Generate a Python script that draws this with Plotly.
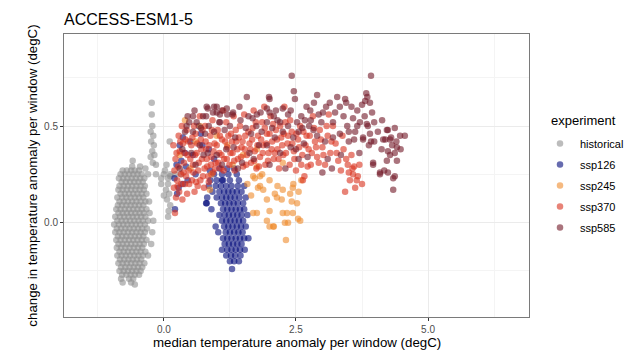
import plotly.graph_objects as go

# ---------------- data ----------------
experiments = ["historical", "ssp126", "ssp245", "ssp370", "ssp585"]
colors = {"historical": "#8f8f8f", "ssp126": "#00087a", "ssp245": "#ef8a2c",
          "ssp370": "#d9301c", "ssp585": "#721726"}

# historical: dense column, stored as rows  y -> list of x
historical_rows = {
    0.27: [-0.78, -0.70, -0.62, -0.55, -0.47],
    0.25: [-0.82, -0.74, -0.66, -0.58, -0.50, -0.42, -0.30, -0.15, 0.00, 0.12, 0.22, 0.33],
    0.23: [-0.85, -0.77, -0.69, -0.61, -0.53, -0.45, -0.37, -0.05, 0.08],
    0.21: [-0.80, -0.72, -0.64, -0.56, -0.48, -0.40],
    0.19: [-0.84, -0.76, -0.68, -0.60, -0.52, -0.44, -0.36],
    0.17: [-0.86, -0.78, -0.70, -0.62, -0.54, -0.46, -0.38],
    0.15: [-0.82, -0.74, -0.66, -0.58, -0.50, -0.42, -0.33],
    0.13: [-0.88, -0.79, -0.71, -0.63, -0.55, -0.47, -0.39],
    0.11: [-0.84, -0.76, -0.68, -0.60, -0.52, -0.44, -0.35, -0.28],
    0.09: [-0.87, -0.79, -0.71, -0.63, -0.55, -0.47, -0.39],
    0.07: [-0.90, -0.82, -0.74, -0.66, -0.58, -0.50, -0.42, -0.33],
    0.05: [-0.86, -0.78, -0.70, -0.62, -0.54, -0.46, -0.38, -0.27],
    0.03: [-0.92, -0.83, -0.75, -0.67, -0.59, -0.51, -0.43, -0.35],
    0.01: [-0.88, -0.80, -0.72, -0.64, -0.56, -0.48, -0.40, -0.30, -0.20],
    -0.01: [-0.94, -0.85, -0.77, -0.69, -0.61, -0.53, -0.45, -0.36],
    -0.03: [-0.89, -0.81, -0.73, -0.65, -0.57, -0.49, -0.41, -0.32],
    -0.05: [-0.92, -0.84, -0.76, -0.68, -0.60, -0.52, -0.44, -0.36, -0.22],
    -0.07: [-0.87, -0.79, -0.71, -0.63, -0.55, -0.47, -0.39],
    -0.09: [-0.90, -0.82, -0.74, -0.66, -0.58, -0.50, -0.42, -0.33],
    -0.11: [-0.86, -0.78, -0.70, -0.62, -0.54, -0.46, -0.38, -0.24],
    -0.13: [-0.89, -0.81, -0.73, -0.65, -0.57, -0.49, -0.41],
    -0.15: [-0.84, -0.76, -0.68, -0.60, -0.52, -0.44, -0.35],
    -0.17: [-0.88, -0.80, -0.72, -0.64, -0.56, -0.48, -0.40, -0.30],
    -0.19: [-0.83, -0.75, -0.67, -0.59, -0.51, -0.43],
    -0.21: [-0.86, -0.78, -0.70, -0.62, -0.54, -0.46, -0.37],
    -0.23: [-0.81, -0.73, -0.65, -0.57, -0.49, -0.41],
    -0.25: [-0.84, -0.76, -0.68, -0.60, -0.52, -0.44],
    -0.27: [-0.79, -0.71, -0.63, -0.55, -0.47],
    -0.29: [-0.81, -0.66, -0.58],
    -0.31: [-0.78, -0.62],
    -0.32: [-0.55],
}
historical_extra = [
    (-0.23, 0.62), (-0.23, 0.56), (-0.22, 0.50), (-0.25, 0.47), (-0.20, 0.45),
    (-0.24, 0.42), (-0.19, 0.40), (-0.22, 0.37), (-0.18, 0.35), (-0.25, 0.34),
    (-0.21, 0.31), (-0.15, 0.30), (0.11, 0.42), (-0.59, 0.32), (-0.45, 0.29),
    (-0.35, 0.28), (-0.60, 0.29), (0.05, 0.30), (0.02, 0.27), (0.12, 0.24),
    (0.08, 0.20), (0.04, 0.17), (0.10, 0.15), (0.06, 0.12), (0.12, 0.09),
    (0.09, 0.06), (0.08, 0.03), (-0.05, 0.20), (0.00, 0.14),
]

ssp126_rows = {
    0.28: [1.05, 1.20, 1.33],
    0.25: [0.95, 1.10, 1.22, 1.38],
    0.22: [0.88, 1.00, 1.12, 1.25, 1.42],
    0.19: [0.85, 0.98, 1.08, 1.18, 1.28, 1.40, 1.52],
    0.16: [0.92, 1.05, 1.14, 1.22, 1.30, 1.38, 1.47],
    0.13: [0.82, 1.00, 1.10, 1.18, 1.26, 1.34, 1.43, 1.55],
    0.10: [0.80, 1.08, 1.16, 1.24, 1.32, 1.40, 1.50],
    0.07: [0.90, 1.12, 1.20, 1.28, 1.36, 1.44, 1.52],
    0.04: [1.05, 1.15, 1.23, 1.31, 1.39, 1.47, 1.58],
    0.01: [1.10, 1.18, 1.26, 1.34, 1.42, 1.50],
    -0.02: [0.98, 1.14, 1.22, 1.30, 1.38, 1.46, 1.55],
    -0.05: [1.03, 1.17, 1.25, 1.33, 1.41, 1.49],
    -0.08: [1.12, 1.20, 1.28, 1.36, 1.44, 1.52, 1.60],
    -0.11: [1.15, 1.23, 1.31, 1.39, 1.47],
    -0.14: [1.10, 1.20, 1.28, 1.36, 1.44, 1.53],
    -0.17: [1.18, 1.27, 1.35, 1.45],
    -0.20: [1.25, 1.33, 1.42],
    -0.24: [1.29],
}
ssp126_extra = [
    (0.36, 0.44), (0.30, 0.40), (0.40, 0.36), (0.33, 0.32), (0.42, 0.29), (0.70, 0.46),
    (0.73, 0.40), (0.66, 0.50), (0.87, 0.27), (1.10, 0.22), (0.20, 0.23), (0.28, 0.18),
    (0.36, 0.20), (0.25, 0.15), (0.81, 0.10), (0.21, 0.07), (0.55, 0.35), (0.60, 0.25),
    (0.50, 0.42), (0.95, 0.33), (0.45, 0.22), (0.24, 0.30), (0.85, 0.38),
]

ssp245_points = [
    (1.69, 0.24), (1.78, 0.18), (1.86, 0.25), (2.00, 0.22), (2.10, 0.15), (1.95, 0.12),
    (2.23, 0.12), (2.39, 0.15), (2.52, 0.10), (2.44, 0.05), (2.25, 0.05), (2.00, 0.06),
    (1.95, 0.01), (2.29, 0.00), (2.58, 0.01), (2.00, -0.02), (2.08, -0.02), (2.35, 0.00),
    (2.31, -0.09), (1.76, 0.05), (2.45, 0.20), (2.55, 0.16), (2.15, 0.19), (1.65, 0.14),
    (2.07, -0.02), (2.42, 0.11), (2.54, 0.02), (2.33, 0.05), (1.69, 0.05),
    (0.40, 0.53), (0.68, 0.50), (1.76, 0.38), (0.87, 0.17), (1.82, 0.24), (1.82, 0.19),
    (1.72, 0.23), (1.88, 0.17), (2.25, 0.17), (2.44, 0.18), (2.14, 0.13), (2.25, 0.31),
    (1.76, 0.29), (0.30, 0.35), (0.50, 0.28), (1.00, 0.45), (1.30, 0.30), (0.60, 0.42),
    (1.50, 0.35), (0.90, 0.25), (1.20, 0.40), (2.60, 0.22), (1.58, 0.20),
]

ssp370_points = [
    (0.18, 0.40), (0.22, 0.33), (0.20, 0.27), (0.25, 0.22), (0.19, 0.18), (0.23, 0.13),
    (0.21, 0.05), (0.28, 0.45), (0.30, 0.37), (0.27, 0.29), (0.32, 0.25), (0.29, 0.16),
    (0.35, 0.12), (0.36, 0.41), (0.38, 0.31), (0.40, 0.20), (0.43, 0.48), (0.45, 0.35),
    (0.47, 0.27), (0.44, 0.15), (0.34, 0.50), (0.41, 0.43),
    (0.52, 0.40), (0.55, 0.30), (0.53, 0.22), (0.58, 0.16), (0.60, 0.46), (0.62, 0.36),
    (0.65, 0.27), (0.64, 0.19), (0.70, 0.43), (0.72, 0.33), (0.74, 0.24), (0.78, 0.50),
    (0.80, 0.38), (0.82, 0.29), (0.85, 0.21), (0.88, 0.45), (0.90, 0.34), (0.93, 0.26),
    (0.96, 0.41), (0.98, 0.31), (0.57, 0.50), (0.68, 0.55), (0.76, 0.18), (0.92, 0.53),
    (1.02, 0.48), (1.05, 0.36), (1.08, 0.28), (1.10, 0.43), (1.14, 0.33), (1.18, 0.52),
    (1.20, 0.39), (1.24, 0.30), (1.27, 0.46), (1.30, 0.36), (1.34, 0.27), (1.37, 0.42),
    (1.40, 0.33), (1.44, 0.50), (1.47, 0.39), (1.50, 0.29), (1.54, 0.45), (1.57, 0.35),
    (1.12, 0.58), (1.32, 0.55), (1.52, 0.56),
    (1.62, 0.41), (1.65, 0.31), (1.68, 0.49), (1.72, 0.37), (1.75, 0.28), (1.78, 0.45),
    (1.82, 0.34), (1.86, 0.52), (1.88, 0.40), (1.92, 0.30), (1.95, 0.46), (1.98, 0.36),
    (2.02, 0.55), (2.05, 0.42), (2.08, 0.33), (2.12, 0.48), (2.15, 0.38), (2.18, 0.28),
    (1.70, 0.58), (1.90, 0.60),
    (2.22, 0.44), (2.26, 0.35), (2.30, 0.52), (2.34, 0.41), (2.38, 0.30), (2.42, 0.47),
    (2.46, 0.37), (2.50, 0.27), (2.54, 0.43), (2.58, 0.50), (2.62, 0.35), (2.66, 0.24),
    (2.70, 0.45), (2.74, 0.38), (2.78, 0.30), (2.82, 0.55), (2.86, 0.42), (2.28, 0.60),
    (2.63, 0.22), (2.90, 0.34),
    (2.95, 0.48), (3.00, 0.39), (3.05, 0.30), (3.10, 0.45), (3.15, 0.36), (3.20, 0.50),
    (3.25, 0.41), (3.30, 0.32), (3.35, 0.27), (3.40, 0.38), (3.43, 0.16), (3.48, 0.30),
    (3.52, 0.22), (3.58, 0.25), (3.62, 0.18), (3.67, 0.24), (3.75, 0.20), (3.55, 0.35),
    (3.12, 0.56), (3.60, 0.29),
    (0.24, 0.36), (0.26, 0.19), (0.31, 0.42), (0.33, 0.20), (0.37, 0.26), (0.39, 0.36),
    (0.42, 0.24), (0.46, 0.42), (0.48, 0.20), (0.50, 0.33), (0.54, 0.44), (0.56, 0.26),
    (0.59, 0.35), (0.61, 0.21), (0.63, 0.41), (0.66, 0.31), (0.69, 0.22), (0.71, 0.38),
    (0.73, 0.48), (0.77, 0.28), (0.79, 0.42), (0.81, 0.33), (0.84, 0.24), (0.86, 0.40),
    (0.89, 0.30), (0.91, 0.48), (0.94, 0.37), (0.97, 0.28), (1.00, 0.40), (1.03, 0.31),
    (1.06, 0.45), (1.09, 0.35), (1.13, 0.27), (1.16, 0.42), (1.19, 0.33), (1.22, 0.45),
    (1.26, 0.36), (1.29, 0.42), (1.33, 0.32), (1.36, 0.48), (1.39, 0.38), (1.42, 0.44),
    (1.46, 0.34), (1.49, 0.42), (1.53, 0.38), (1.56, 0.30),
    (1.60, 0.47), (1.64, 0.38), (1.67, 0.43), (1.71, 0.32), (1.74, 0.52), (1.77, 0.40),
    (1.80, 0.29), (1.84, 0.43), (1.87, 0.36), (1.91, 0.49), (1.94, 0.41), (1.97, 0.32),
    (2.00, 0.46), (2.04, 0.38), (2.07, 0.51), (2.10, 0.36), (2.14, 0.43), (2.17, 0.33),
    (2.20, 0.50), (2.24, 0.40), (2.27, 0.46), (2.31, 0.36), (2.35, 0.45), (2.39, 0.53),
    (2.43, 0.41), (2.47, 0.33), (2.51, 0.46), (2.56, 0.39), (2.60, 0.30), (2.64, 0.47),
    (2.68, 0.40), (2.72, 0.29), (2.76, 0.45), (2.80, 0.36), (2.84, 0.49), (2.88, 0.39),
    (2.93, 0.31), (2.97, 0.43), (3.02, 0.35), (3.08, 0.50), (3.17, 0.42), (3.27, 0.36),
    (3.38, 0.45), (3.45, 0.33), (3.57, 0.28), (3.65, 0.22), (3.50, 0.26), (3.70, 0.30),
]

ssp585_points = [
    (0.83, 0.59), (1.00, 0.57), (1.10, 0.58), (1.19, 0.59), (1.31, 0.57), (1.57, 0.65),
    (1.99, 0.65), (1.95, 0.59), (2.00, 0.57), (2.25, 0.59), (2.42, 0.76), (2.46, 0.68),
    (2.48, 0.64), (1.76, 0.56), (1.06, 0.52), (0.74, 0.55), (2.00, 0.64), (0.43, 0.50),
    (3.92, 0.76), (2.90, 0.66), (2.84, 0.62), (3.28, 0.65), (3.43, 0.64), (3.45, 0.62),
    (3.83, 0.67), (3.85, 0.65), (3.81, 0.63), (3.90, 0.62), (3.75, 0.61), (3.94, 0.57),
    (3.66, 0.58), (4.13, 0.53), (4.22, 0.48), (4.37, 0.49), (4.47, 0.45), (4.28, 0.43),
    (4.40, 0.42), (3.86, 0.50), (3.71, 0.52), (3.58, 0.54), (3.33, 0.60), (3.14, 0.62),
    (3.01, 0.57), (2.77, 0.58), (2.67, 0.53), (2.98, 0.52), (3.20, 0.52), (2.83, 0.48),
    (3.33, 0.46), (3.50, 0.47), (3.77, 0.43), (3.92, 0.42),
    (4.24, 0.48), (4.56, 0.45), (4.30, 0.44), (4.19, 0.43), (4.41, 0.39), (4.24, 0.37),
    (4.37, 0.36), (4.22, 0.32), (4.41, 0.32), (3.96, 0.31), (4.09, 0.26), (4.24, 0.26),
    (4.34, 0.23), (4.34, 0.17), (4.15, 0.43), (4.28, 0.35), (4.09, 0.25), (4.17, 0.27),
    (4.37, 0.24),
    (3.47, 0.50), (3.66, 0.50), (3.84, 0.51), (3.90, 0.46), (3.77, 0.44), (3.98, 0.42),
    (3.60, 0.43), (3.96, 0.30), (3.88, 0.40),
    (0.40, 0.47), (0.48, 0.52), (0.55, 0.47), (0.62, 0.52), (0.70, 0.49), (0.78, 0.46),
    (0.85, 0.50), (0.95, 0.47), (1.05, 0.52), (1.15, 0.48), (1.25, 0.50), (1.35, 0.44),
    (1.45, 0.53), (1.55, 0.49), (1.65, 0.46), (1.75, 0.50), (1.85, 0.47), (1.95, 0.52),
    (2.05, 0.49), (2.15, 0.53), (2.25, 0.47), (2.35, 0.50), (2.45, 0.44), (2.55, 0.47),
    (2.65, 0.41), (2.75, 0.50), (0.35, 0.38), (0.52, 0.36), (0.68, 0.40), (0.83, 0.36),
    (1.00, 0.35), (1.18, 0.38), (1.32, 0.39), (1.48, 0.31), (1.62, 0.36), (1.80, 0.40),
    (1.95, 0.40), (2.10, 0.44), (2.20, 0.36), (2.40, 0.39), (2.55, 0.33), (2.72, 0.34),
    (2.90, 0.45), (3.05, 0.42), (3.20, 0.44), (0.30, 0.28), (0.60, 0.30), (0.75, 0.35),
    (1.10, 0.30), (1.40, 0.28), (1.70, 0.33), (2.00, 0.30), (2.30, 0.28), (2.50, 0.38),
    (0.45, 0.55), (0.80, 0.55), (1.60, 0.55), (2.12, 0.58), (2.35, 0.56), (2.60, 0.55),
    (2.70, 0.60), (1.43, 0.60), (0.58, 0.58), (0.95, 0.60), (3.10, 0.33), (3.35, 0.35),
    (3.50, 0.42), (3.70, 0.36), (3.00, 0.26), (3.18, 0.28),
    (0.81, 0.60), (0.93, 0.57), (1.00, 0.60), (0.55, 0.55), (1.06, 0.56), (1.20, 0.56),
    (1.30, 0.56),
    (1.68, 0.54), (1.83, 0.57), (2.08, 0.55), (2.20, 0.52), (2.40, 0.58), (2.52, 0.52),
    (2.62, 0.49), (2.78, 0.53), (2.93, 0.56), (3.07, 0.60), (3.24, 0.57), (3.40, 0.55),
    (3.55, 0.60), (3.62, 0.47), (3.80, 0.55), (3.98, 0.52), (4.05, 0.47), (4.12, 0.38),
    (4.32, 0.40), (4.48, 0.38),
]

x_tick_vals = [0.0, 2.5, 5.0]
y_tick_vals = [0.0, 0.5]
x_range = [-1.89, 6.91]
y_range = [-0.488, 0.976]


def rows_to_xy(rows, extra):
    xs, ys = [], []
    for yv, xlist in rows.items():
        for xv in xlist:
            xs.append(xv)
            ys.append(yv)
    for xv, yv in extra:
        xs.append(xv)
        ys.append(yv)
    return xs, ys


series = {
    "historical": rows_to_xy(historical_rows, historical_extra),
    "ssp126": rows_to_xy(ssp126_rows, ssp126_extra),
    "ssp245": rows_to_xy({}, ssp245_points),
    "ssp370": rows_to_xy({}, ssp370_points),
    "ssp585": rows_to_xy({}, ssp585_points),
}

FONT = "Liberation Sans, Arial, Helvetica, sans-serif"

# the page adds an 8px body margin, so figure coordinates are shifted by -8
L, T, R, B = 56, 26, 634 - 521, 350 - 309
PW, PH = 634 - L - R, 350 - T - B

fig = go.Figure()
for name in experiments:
    xs, ys = series[name]
    fig.add_trace(go.Scatter(
        x=xs, y=ys, mode="markers", name=name, legendgroup=name,
        marker=dict(color=colors[name], size=6.5, opacity=0.6, line=dict(width=0)),
    ))

axis_common = dict(
    showline=True, linecolor="#7a7a7a", linewidth=1, mirror=True,
    showgrid=True, gridcolor="#ebebeb", gridwidth=1,
    zeroline=False, ticks="outside", ticklen=3, tickcolor="#333333",
    tickfont=dict(family=FONT, size=10, color="#4d4d4d"),
    tickformat=".1f", automargin=False,
)

fig.update_layout(
    width=634, height=350,
    margin=dict(l=L, r=R, t=T, b=B, autoexpand=False),
    paper_bgcolor="white", plot_bgcolor="white",
    font=dict(family=FONT, color="black"),
    title=dict(text="ACCESS-ESM1-5", x=L / 634, xanchor="left", xref="container",
               y=1 - 11 / 350, yanchor="middle", yref="container",
               font=dict(family=FONT, size=16, color="black")),
    xaxis=dict(range=x_range, tickvals=x_tick_vals,
               minor=dict(showgrid=True, gridcolor="#f4f4f4", gridwidth=0.6, dtick=1.25, tick0=0),
               **axis_common),
    yaxis=dict(range=y_range, tickvals=y_tick_vals,
               minor=dict(showgrid=True, gridcolor="#f4f4f4", gridwidth=0.6, dtick=0.25, tick0=0),
               title=dict(text="change in temperature anomaly per window (degC)",
                          font=dict(family=FONT, size=13.3, color="black"), standoff=3),
               **axis_common),
    legend=dict(font=dict(family=FONT, size=11, color="black"),
                x=(532 - L) / PW, xanchor="left", y=0.664, yanchor="top",
                tracegroupgap=2,
                bgcolor="rgba(0,0,0,0)"),
    showlegend=True,
)

# x-axis title (placed as paper-referenced text so it sits inside the visible page)
fig.add_annotation(text="median temperature anomaly per window (degC)",
                   xref="paper", yref="paper", x=0.5, y=(309 - 334) / PH,
                   xanchor="center", yanchor="middle", showarrow=False,
                   font=dict(family=FONT, size=13.3, color="black"))

fig.add_annotation(text="experiment", xref="paper", yref="paper",
                   x=(541 - L) / PW, y=0.6926, xanchor="left", yanchor="middle",
                   showarrow=False, font=dict(family=FONT, size=13, color="black"))

fig.write_html("out.html")
